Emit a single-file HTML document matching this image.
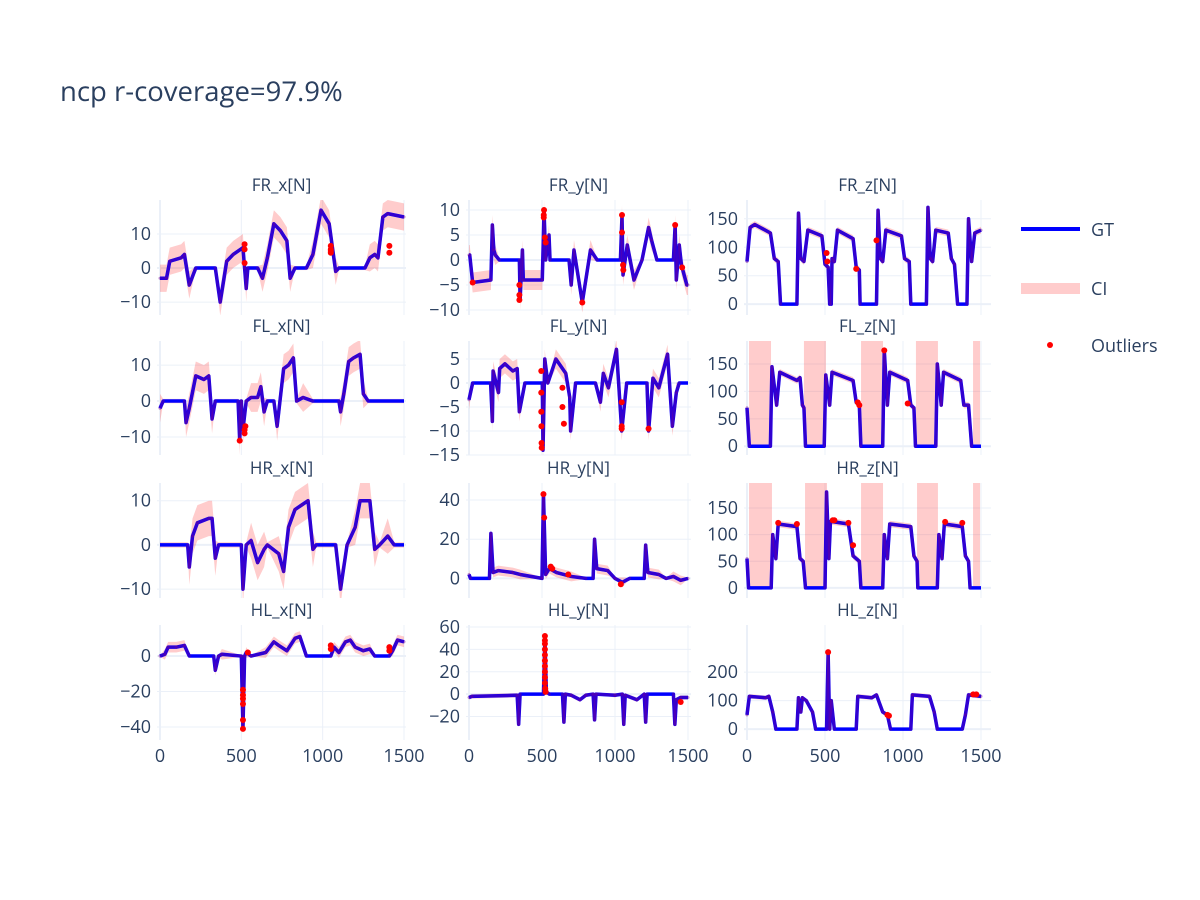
<!DOCTYPE html>
<html><head><meta charset="utf-8"><style>
body{margin:0;background:#fff}
svg{display:block;font-family:"Open Sans","Liberation Sans",sans-serif}
</style></head><body>
<svg id="fig" width="1200" height="900" viewBox="0 0 1200 900">
<rect width="1200" height="900" fill="#fff"/>
<text x="60" y="101" font-size="27.5" fill="#2a3f5f">ncp r-coverage=97.9%</text>
<g id="plots"></g>
<g>
 <line x1="1021" y1="229" x2="1080" y2="229" stroke="#0000ff" stroke-width="4"/>
 <text x="1091" y="236" font-size="18" fill="#2a3f5f">GT</text>
 <rect x="1021" y="283" width="59" height="11" fill="rgba(255,0,0,0.2)"/>
 <text x="1091" y="295" font-size="18" fill="#2a3f5f">CI</text>
 <circle cx="1050" cy="345" r="3" fill="#ff0000"/>
 <text x="1091" y="352" font-size="18" fill="#2a3f5f">Outliers</text>
</g>
</svg>
<script>
const xTicks=[0,500,1000,1500];
const titles=["FR_x[N]","FR_y[N]","FR_z[N]","FL_x[N]","FL_y[N]","FL_z[N]","HR_x[N]","HR_y[N]","HR_z[N]","HL_x[N]","HL_y[N]","HL_z[N]"];
const yRanges=[[-13.8,20],[-11,12],[-19,183],[-15,16.7],[-15,8.75],[-16,192],[-12,14],[-10,48.7],[-19,197],[-47.3,17.5],[-41,61.8],[-38,365]];
const yTicks=[[-10,0,10],[-10,-5,0,5,10],[0,50,100,150],[-10,0,10],[-15,-10,-5,0,5],[0,50,100,150],[-10,0,10],[0,20,40],[0,50,100,150],[-40,-20,0],[-20,0,20,40,60],[0,100,200]];
const ciSpread=[4,2,6,4,2,6,4,2.5,6,3,2,8];
const gtX=[
[0,40,60,130,150,180,220,340,370,410,450,510,520,530,540,600,630,660,700,740,780,800,830,900,940,990,1040,1080,1100,1260,1290,1320,1340,1370,1400,1500],
[0,5,25,150,160,170,180,208,345,350,366,372,502,514,525,548,555,685,700,719,776,832,878,1037,1048,1055,1084,1130,1185,1230,1250,1287,1400,1412,1420,1440,1455,1492,1500],
[0,20,50,150,175,200,215,320,330,345,365,390,480,500,520,530,540,545,560,580,680,700,720,725,830,840,855,870,890,990,1010,1040,1050,1150,1160,1175,1190,1210,1290,1310,1330,1350,1410,1420,1440,1460,1500],
[0,20,150,160,180,220,270,300,320,340,480,490,500,510,530,560,600,620,640,660,700,720,760,790,820,840,880,940,1100,1110,1130,1160,1190,1230,1250,1280,1500],
[0,25,148,160,165,202,210,246,300,330,345,383,502,507,519,540,595,663,690,696,730,866,900,920,955,1010,1046,1080,1219,1230,1260,1300,1360,1393,1420,1440,1500],
[0,15,150,160,190,210,320,340,355,365,375,495,505,530,545,680,700,720,730,870,880,900,915,1030,1050,1070,1080,1210,1220,1245,1260,1370,1390,1420,1440,1500],
[0,170,180,200,230,300,320,340,360,500,510,530,560,600,640,660,730,760,790,830,870,910,940,960,1080,1110,1150,1200,1230,1290,1320,1350,1400,1440,1500],
[0,10,140,150,165,200,300,350,500,510,525,550,600,700,800,850,860,875,950,1000,1050,1100,1200,1210,1225,1300,1350,1400,1450,1500],
[0,10,155,165,185,200,320,340,360,375,500,510,525,535,650,680,720,730,870,880,900,915,1050,1070,1090,1095,1220,1230,1250,1265,1380,1400,1420,1430,1500],
[0,30,50,100,150,180,330,340,360,380,500,510,520,530,560,650,700,730,780,830,860,900,1050,1070,1100,1140,1170,1200,1250,1290,1320,1410,1430,1460,1500],
[0,20,330,340,350,500,510,520,530,550,640,650,660,700,760,800,850,860,870,1000,1050,1060,1070,1150,1200,1210,1220,1400,1410,1420,1450,1500],
[0,15,120,140,165,185,320,330,345,355,380,420,440,510,520,530,540,560,700,710,800,830,870,900,920,1050,1060,1170,1200,1220,1380,1400,1420,1500]];
const gtY=[
[-3,-3,2,3,4,-5,0,0,-10,2,4,6,0,-6,0,0,-3,3,13,11,8,-3,0,0,4,17,13,-1,0,0,3,4,3,15,16,15],
[1,1,-4.5,-4,7,2,1,0,0,-8,2,-4,-4,10,0,5,0,0,-5,2,-8.5,2,0,0,9,-3,3,-4,0,6.5,4,0,0,7,-4,3,-1,-5,-5],
[75,135,140,125,80,75,0,0,160,80,75,130,120,70,65,0,0,80,75,130,115,65,60,0,0,165,80,75,130,120,80,75,0,0,170,80,75,130,125,80,70,0,0,150,75,125,130],
[-2,0,0,-6,-2,7,6,7,-5,0,0,-11,0,-8,0,1,1,4,-3,0,0,-7,9,10,12,0,1,0,0,-3,2,11,12,13,2,0,0],
[-3.5,0,0,-8,2.5,-2,3,4,2.5,3,-6,0,0,-14,5,0,5,2,-3,-10,0,0,-4,2,-1,7,-10,0,0,-10,1,-1,6,-9,-2,0,0],
[70,0,0,145,75,135,120,125,75,70,0,0,130,75,135,120,80,75,0,0,175,75,135,120,75,70,0,0,150,75,135,120,75,75,0,0],
[0,0,-5,2,5,6,6,-3,0,0,-10,0,1,-4,-1,0,-2,-6,4,8,9,10,-1,0,0,-10,0,4,10,10,-1,0,2,0,0],
[2,0,0,23,3,4,3,2,0,43,2,5,3,1,0,0,20,5,4,0,-2,0,0,17,3,2,0,1,-1,0],
[55,0,0,100,55,120,115,55,50,0,0,180,55,125,120,60,50,0,0,100,55,120,115,60,50,0,0,100,55,120,115,60,50,0,0],
[0,1,5,5,6,0,0,-8,0,1,0,-41,0,2,0,2,8,6,3,10,11,0,0,5,2,8,9,5,3,4,0,0,3,9,8],
[-3,-2,-1,-27,0,0,0,50,2,0,0,-25,0,-1,-5,-1,0,-23,0,-1,0,-27,-1,-5,0,-25,0,0,-27,-5,-3,-3],
[50,115,110,115,60,0,0,110,60,110,100,60,0,0,270,0,100,0,0,115,110,120,60,50,0,0,120,115,60,0,0,50,120,115]];
const ciBandsZ={5:[[13,154],[365,506],[731,872],[1083,1224],[1449,1494]],8:[[13,160],[372,513],[731,872],[1090,1224],[1449,1494]]};
const outX=[[520,520,520,1050,1050,1050,1050,1410,1410],[25,345,345,345,514,512,512,520,525,776,1048,1048,1055,1057,1412,1460],[510,515,700,830],[490,520,520,525],[495,495,495,496,497,498,640,640,650,1046,1046,1046,1230],[710,720,880,1030],[],[510,515,560,570,680,1040],[200,320,550,560,650,680,1270,1380],[510,510,510,510,510,510,540,1050,1050,1410,1410],[520,520,520,520,520,520,520,520,520,520,522,525,1450],[520,900,910,1450,1470]];
const outY=[[7,5.5,1.5,6.5,5.5,5,4.5,6.5,4.5],[-4.5,-5,-7,-8,10,9,8.5,4.5,3.5,-8.5,9,5.5,-1,-2,7,-1.5],[90,75,62,112],[-11,-9,-8,-7],[2.5,-2,-6,-9,-12.5,-13.5,-1,-5,-8.5,-4,-9,-9.5,-9.5],[80,75,175,78],[],[43,31,6,5,2,-3],[122,120,127,127,122,80,124,122],[-41,-36,-27,-24,-19,-22,2,6,4,5,3],[52,48,45,40,35,30,25,20,15,10,5,2,-7],[270,50,47,122,122]];

const NS="http://www.w3.org/2000/svg";
const colDom=[[157,406],[466,691],[744,991]];
const col0=[160,469,747], col1500=[404,688,981];
const rowDom=[[200,315],[341,455],[483,598],[625,740]];
const g=document.getElementById('plots');
function mk(tag,attrs,parent){const e=document.createElementNS(NS,tag);for(const k in attrs)e.setAttribute(k,attrs[k]);(parent||g).appendChild(e);return e;}
for(let i=0;i<12;i++){
  const r=Math.floor(i/3),c=i%3;
  const [xl,xr]=colDom[c],[yt,yb]=rowDom[r],[ymin,ymax]=yRanges[i];
  const X=v=>col0[c]+(v/1500)*(col1500[c]-col0[c]);
  const Y=v=>yb-(v-ymin)/(ymax-ymin)*(yb-yt);
  const sp=mk('g',{});
  
  
  const cp='cp'+i;
  const cl=mk('clipPath',{id:cp},sp);mk('rect',{x:xl,y:yt,width:xr-xl,height:yb-yt},cl);
  xTicks.forEach(t=>{const l=mk('line',{x1:X(t),x2:X(t),y1:yt,y2:yb,stroke:'#ebf0f8','stroke-width':t===0?2:1},sp);
    });
  yTicks[i].forEach(t=>{const l=mk('line',{x1:xl,x2:xr,y1:Y(t),y2:Y(t),stroke:'#ebf0f8','stroke-width':t===0?2:1},sp);
    
    const tx=mk('text',{x:xl-6,y:Y(t)+6,'font-size':18,fill:'#2a3f5f','text-anchor':'end'},sp);
    tx.textContent=(t<0?'\u2212'+(-t):t);
    });
  if(r===3) xTicks.forEach(t=>{const tx=mk('text',{x:X(t),y:762,'font-size':18,fill:'#2a3f5f','text-anchor':'middle'},sp);
    tx.textContent=t;});
  const tt=mk('text',{x:(xl+xr)/2,y:yt-9,'font-size':17,fill:'#2a3f5f','text-anchor':'middle'},sp);
  tt.textContent=titles[i];
  const pg=mk('g',{'clip-path':'url(#'+cp+')'},sp);
  const xs=gtX[i],ys=gtY[i],s=ciSpread[i];
  let up=[],lo=[];
  for(let k=0;k<xs.length;k++){const w=ys[k]===0?s*0.15:s;up.push(X(xs[k])+','+Y(ys[k]+w));lo.unshift(X(xs[k])+','+Y(ys[k]-w));}
  const band=mk('polygon',{points:up.concat(lo).join(' '),fill:'rgba(255,0,0,0.2)'},pg);
  
  if(ciBandsZ[i]) ciBandsZ[i].forEach(b=>{const rr=mk('rect',{x:X(b[0]),y:yt,width:X(b[1])-X(b[0]),height:Y(0)-yt,fill:'rgba(255,0,0,0.2)'},pg);
    });
  const pts=xs.map((v,k)=>X(v)+','+Y(ys[k])).join(' ');
  const ln=mk('polyline',{points:pts,fill:'none',stroke:'#0000ff','stroke-width':3.5,'stroke-linejoin':'round'},pg);
  
  for(let k=0;k<xs.length-1;k++){
    if(ys[k]===0&&ys[k+1]===0) continue;
    const sg=mk('line',{x1:X(xs[k]),y1:Y(ys[k]),x2:X(xs[k+1]),y2:Y(ys[k+1]),stroke:'rgba(110,0,150,0.45)','stroke-width':3,'stroke-linecap':'round'},pg);
    
  }
  outX[i].forEach((v,k)=>{const d=mk('circle',{cx:X(v),cy:Y(outY[i][k]),r:3,fill:'#ff0000'},sp);
    });
}
</script>
</body></html>
